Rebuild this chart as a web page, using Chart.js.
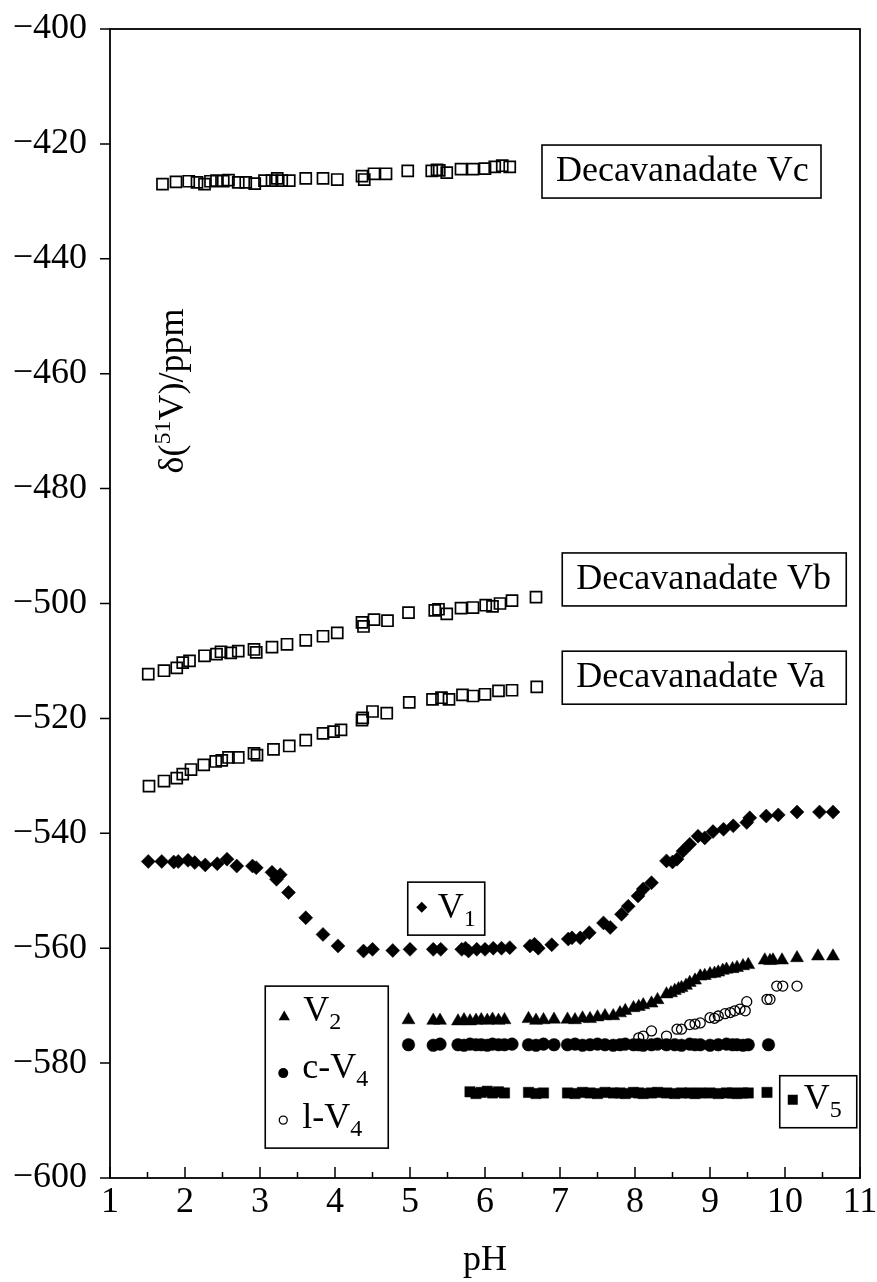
<!DOCTYPE html>
<html><head><meta charset="utf-8">
<script src="https://cdn.jsdelivr.net/npm/chart.js@4.4.1/dist/chart.umd.min.js"></script>
<style>html,body{margin:0;padding:0;background:#fff;}canvas{display:block;}</style>
</head><body>
<canvas id="c" width="877" height="1282"></canvas>
<script>
// ---- tick labels ----
const xTicks = [1,2,3,4,5,6,7,8,9,10,11];
const yTicks = [-600,-580,-560,-540,-520,-500,-480,-460,-440,-420,-400];

// ---- series (pH, δ/ppm) ----
const vcPH  = [1.70,1.88,2.05,2.16,2.26,2.34,2.42,2.51,2.58,2.71,2.81,2.93,3.06,3.16,3.23,3.29,3.39,3.61,3.84,4.03,4.36,4.39,4.52,4.68,4.97,5.29,5.36,5.39,5.49,5.68,5.84,6.00,6.13,6.23,6.33];
const vcPPM = [-427.0,-426.6,-426.5,-426.7,-427.0,-426.5,-426.4,-426.5,-426.3,-426.7,-426.7,-426.9,-426.4,-426.4,-426.0,-426.4,-426.4,-426.0,-426.0,-426.2,-425.6,-426.2,-425.2,-425.2,-424.7,-424.7,-424.5,-424.6,-425.0,-424.4,-424.4,-424.3,-424.0,-423.8,-424.0];

const vbPH  = [1.51,1.72,1.89,1.97,2.06,2.26,2.42,2.48,2.61,2.71,2.92,2.95,3.16,3.36,3.61,3.84,4.03,4.36,4.38,4.52,4.70,4.98,5.33,5.38,5.49,5.68,5.84,6.01,6.10,6.20,6.36,6.68];
const vbPPM = [-512.3,-511.7,-511.2,-510.3,-510.0,-509.1,-508.8,-508.4,-508.6,-508.3,-508.0,-508.5,-507.6,-507.1,-506.4,-505.7,-505.1,-503.3,-504.0,-502.8,-503.0,-501.6,-501.2,-501.0,-501.8,-500.8,-500.7,-500.3,-500.5,-500.0,-499.5,-498.9];

const vaPH  = [1.52,1.72,1.89,1.97,2.08,2.25,2.41,2.49,2.58,2.71,2.92,2.96,3.18,3.39,3.61,3.84,3.98,4.08,4.36,4.37,4.50,4.69,4.99,5.30,5.42,5.52,5.70,5.84,6.00,6.18,6.36,6.69];
const vaPPM = [-531.8,-530.9,-530.4,-529.7,-528.9,-528.1,-527.5,-527.3,-526.8,-526.8,-526.1,-526.4,-525.4,-524.8,-523.8,-522.6,-522.3,-522.0,-520.3,-519.9,-518.8,-519.1,-517.2,-516.7,-516.4,-516.7,-515.9,-516.1,-515.8,-515.2,-515.1,-514.5];

const v1PH  = [1.51,1.69,1.85,1.91,2.04,2.13,2.27,2.43,2.56,2.69,2.90,2.95,3.16,3.22,3.27,3.38,3.61,3.84,4.04,4.38,4.50,4.77,5.00,5.31,5.41,5.69,5.74,5.78,5.89,6.00,6.11,6.22,6.33,6.60,6.66,6.71,6.89,7.11,7.16,7.27,7.39,7.58,7.67,7.82,7.91,8.04,8.11,8.22,8.42,8.50,8.56,8.64,8.73,8.84,8.93,9.04,9.18,9.31,9.49,9.53,9.75,9.91,10.16,10.46,10.64];
const v1PPM = [-544.9,-544.9,-545.0,-544.9,-544.7,-545.1,-545.5,-545.3,-544.5,-545.7,-545.7,-546.0,-546.8,-548.0,-547.2,-550.3,-554.7,-557.6,-559.6,-560.5,-560.2,-560.4,-560.2,-560.2,-560.2,-560.2,-560.0,-560.5,-560.2,-560.2,-560.0,-560.0,-559.9,-559.6,-559.3,-560.0,-559.4,-558.4,-558.2,-558.2,-557.3,-555.6,-556.4,-554.1,-552.7,-550.9,-549.7,-548.6,-544.8,-545.0,-544.5,-543.1,-541.9,-540.5,-540.8,-539.7,-539.3,-538.7,-538.1,-537.3,-537.0,-536.8,-536.3,-536.3,-536.3];

const v2PH  = [4.98,5.31,5.40,5.64,5.72,5.80,5.88,5.95,6.03,6.10,6.18,6.26,6.58,6.68,6.78,6.92,7.10,7.20,7.30,7.40,7.50,7.60,7.71,7.80,7.87,7.98,8.05,8.11,8.22,8.30,8.42,8.48,8.53,8.58,8.62,8.68,8.73,8.80,8.87,8.93,9.00,9.06,9.11,9.17,9.22,9.30,9.36,9.44,9.51,9.73,9.80,9.84,9.96,10.16,10.44,10.64];
const v2PPM = [-572.5,-572.6,-572.6,-572.7,-572.5,-572.7,-572.6,-572.5,-572.6,-572.4,-572.6,-572.5,-572.3,-572.6,-572.5,-572.4,-572.4,-572.5,-572.2,-572.3,-572.0,-571.8,-571.8,-571.3,-570.9,-570.4,-570.2,-569.9,-569.6,-569.0,-568.0,-567.8,-567.4,-567.1,-566.9,-566.5,-566.0,-565.6,-564.9,-564.8,-564.5,-564.4,-564.2,-563.9,-563.7,-563.6,-563.4,-563.1,-562.9,-562.1,-562.2,-562.1,-562.1,-561.7,-561.4,-561.4];

const c4PH  = [4.98,5.31,5.40,5.64,5.72,5.80,5.88,5.95,6.03,6.10,6.18,6.26,6.36,6.58,6.68,6.78,6.92,7.10,7.20,7.30,7.40,7.50,7.60,7.71,7.80,7.87,7.98,8.05,8.11,8.22,8.30,8.42,8.53,8.62,8.73,8.80,8.87,9.00,9.11,9.22,9.30,9.36,9.44,9.51,9.78];
const c4PPM = [-576.8,-576.9,-576.7,-576.8,-576.9,-576.7,-576.8,-576.8,-576.9,-576.7,-576.8,-576.8,-576.7,-576.8,-576.9,-576.7,-576.8,-576.8,-576.7,-576.9,-576.8,-576.7,-576.8,-576.9,-576.8,-576.7,-576.8,-576.8,-576.9,-576.8,-576.7,-576.8,-576.8,-576.9,-576.7,-576.8,-576.8,-576.9,-576.8,-576.7,-576.8,-576.8,-576.9,-576.8,-576.8];

const l4PH  = [8.05,8.11,8.22,8.42,8.56,8.62,8.73,8.80,8.87,9.00,9.06,9.11,9.20,9.27,9.33,9.40,9.47,9.49,9.76,9.80,9.89,9.97,10.16];
const l4PPM = [-575.6,-575.3,-574.4,-575.3,-574.1,-574.1,-573.3,-573.2,-573.0,-572.1,-572.2,-571.8,-571.4,-571.2,-570.9,-570.6,-570.9,-569.3,-568.9,-568.9,-566.6,-566.6,-566.6];

const v5PH  = [5.80,5.88,5.95,6.03,6.10,6.18,6.26,6.58,6.68,6.78,7.10,7.20,7.30,7.40,7.50,7.60,7.71,7.80,7.87,7.98,8.05,8.11,8.22,8.30,8.42,8.53,8.62,8.73,8.80,8.87,9.00,9.11,9.22,9.30,9.36,9.44,9.51,9.76];
const v5PPM = [-585.0,-585.3,-585.1,-584.9,-585.2,-585.0,-585.2,-585.1,-585.3,-585.2,-585.2,-585.3,-585.1,-585.2,-585.3,-585.1,-585.2,-585.2,-585.3,-585.1,-585.2,-585.3,-585.2,-585.1,-585.2,-585.3,-585.2,-585.2,-585.3,-585.2,-585.2,-585.3,-585.2,-585.2,-585.3,-585.2,-585.2,-585.1];

// ---- text labels ----
const boxLabels = [
  {text:'Decavanadate Vc', pH:6.76, ppm:-420.2, w:279, h:53},
  {text:'Decavanadate Vb', pH:7.03, ppm:-491.2, w:284, h:53},
  {text:'Decavanadate Va', pH:7.03, ppm:-508.3, w:284, h:53}
];
const yTitleAnchor = {pH:1.97, ppm:-463.0};

const FONT = '"Liberation Serif","Times New Roman",serif';
const BLACK = '#000';
const pts = (xs, ys) => xs.map((x, i) => ({x: x, y: ys[i]}));

function drawMarker(ctx, style, x, y, r, filled, lw) {
  ctx.save();
  ctx.fillStyle = BLACK; ctx.strokeStyle = BLACK; ctx.lineWidth = lw || 1.2;
  ctx.beginPath();
  if (style === 'triangle') {
    ctx.moveTo(x, y - r); ctx.lineTo(x + 0.866 * r, y + 0.5 * r); ctx.lineTo(x - 0.866 * r, y + 0.5 * r); ctx.closePath();
  } else if (style === 'diamond') {
    ctx.moveTo(x, y - r); ctx.lineTo(x + r, y); ctx.lineTo(x, y + r); ctx.lineTo(x - r, y); ctx.closePath();
  } else if (style === 'square') {
    ctx.rect(x - r, y - r, 2 * r, 2 * r);
  } else {
    ctx.arc(x, y, r, 0, Math.PI * 2);
  }
  if (filled) ctx.fill(); else ctx.stroke();
  ctx.restore();
}

// draw text with sub/superscripts; parts: [text, kind]
function drawRich(ctx, x, y, parts) {
  let cx = x;
  for (const [t, kind] of parts) {
    if (kind === 'n') { ctx.font = '36px ' + FONT; ctx.fillText(t, cx, y); }
    else if (kind === 'sub') { ctx.font = '24px ' + FONT; ctx.fillText(t, cx, y + 8); }
    else { ctx.font = '24px ' + FONT; ctx.fillText(t, cx, y - 13); }
    cx += ctx.measureText(t).width;
  }
  return cx - x;
}
function richWidth(ctx, parts) {
  let w = 0;
  for (const [t, kind] of parts) { ctx.font = (kind === 'n' ? '36px ' : '24px ') + FONT; w += ctx.measureText(t).width; }
  return w;
}

const decorPlugin = {
  id: 'decor',
  afterDraw(chart) {
    const ctx = chart.ctx, xs = chart.scales.x, ys = chart.scales.y, a = chart.chartArea;
    ctx.save();
    ctx.strokeStyle = BLACK; ctx.fillStyle = BLACK;
    // frame
    ctx.lineWidth = 1.8;
    ctx.strokeRect(a.left, a.top, a.right - a.left, a.bottom - a.top);
    // x ticks (inward), major and minor
    ctx.lineWidth = 1.5;
    ctx.beginPath();
    xTicks.forEach((v, i) => {
      const px = xs.getPixelForValue(v);
      ctx.moveTo(px, a.bottom); ctx.lineTo(px, a.bottom - 11);
      if (i < xTicks.length - 1) {
        const pm = xs.getPixelForValue(v + 0.5);
        ctx.moveTo(pm, a.bottom); ctx.lineTo(pm, a.bottom - 6);
      }
    });
    // y ticks (outward)
    yTicks.forEach(v => {
      const py = ys.getPixelForValue(v);
      ctx.moveTo(a.left - 10, py); ctx.lineTo(a.left, py);
    });
    ctx.stroke();

    ctx.textBaseline = 'alphabetic'; ctx.textAlign = 'left';
    // boxed series labels
    ctx.lineWidth = 1.6;
    boxLabels.forEach(b => {
      const bx = xs.getPixelForValue(b.pH), by = ys.getPixelForValue(b.ppm);
      ctx.strokeRect(bx, by, b.w, b.h);
      ctx.font = '36px ' + FONT;
      ctx.fillText(b.text, bx + 14, by + b.h - 17);
    });

    // V1 box
    {
      const bx = xs.getPixelForValue(4.97), by = ys.getPixelForValue(-548.5);
      ctx.strokeRect(bx, by, 77, 53);
      drawMarker(ctx, 'diamond', bx + 14, by + 25, 5.5, true);
      drawRich(ctx, bx + 30, by + 36, [['V','n'],['1','sub']]);
    }
    // V5 box
    {
      const bx = xs.getPixelForValue(9.93), by = ys.getPixelForValue(-582.2);
      ctx.strokeRect(bx, by, 77, 52);
      drawMarker(ctx, 'square', bx + 13, by + 24, 5, true);
      drawRich(ctx, bx + 24, by + 33, [['V','n'],['5','sub']]);
    }
    // legend box V2 / c-V4 / l-V4
    {
      const bx = xs.getPixelForValue(3.07), by = ys.getPixelForValue(-566.6);
      ctx.strokeRect(bx, by, 123, 162);
      drawMarker(ctx, 'triangle', bx + 19, by + 31, 6.5, true);
      drawRich(ctx, bx + 38, by + 35, [['V','n'],['2','sub']]);
      drawMarker(ctx, 'circle', bx + 18, by + 87, 5, true);
      drawRich(ctx, bx + 37, by + 92, [['c-V','n'],['4','sub']]);
      drawMarker(ctx, 'circle', bx + 18, by + 134, 4, false, 1.3);
      drawRich(ctx, bx + 37, by + 142, [['l-V','n'],['4','sub']]);
    }
    // y-axis title (rotated, inside plot)
    {
      const parts = [['δ(','n'],['51','sup'],['V)/ppm','n']];
      const tx = xs.getPixelForValue(yTitleAnchor.pH), ty = ys.getPixelForValue(yTitleAnchor.ppm);
      ctx.translate(tx, ty);
      ctx.rotate(-Math.PI / 2);
      const w = richWidth(ctx, parts);
      drawRich(ctx, -w / 2, 0, parts);
    }
    ctx.restore();
  }
};

const ds = (label, xs, ys, style, r, filled, bw) => ({
  label, data: pts(xs, ys), showLine: false,
  pointStyle: style, pointRadius: r, pointHoverRadius: r,
  pointBorderWidth: bw, borderColor: BLACK,
  backgroundColor: filled ? BLACK : 'rgba(0,0,0,0)'
});

Chart.defaults.font.family = FONT;
Chart.defaults.color = BLACK;

new Chart(document.getElementById('c'), {
  type: 'scatter',
  data: {
    datasets: [
      ds('Decavanadate Vc', vcPH, vcPPM, 'rect', 7.8, false, 1.7),
      ds('Decavanadate Vb', vbPH, vbPPM, 'rect', 7.8, false, 1.7),
      ds('Decavanadate Va', vaPH, vaPPM, 'rect', 7.8, false, 1.7),
      ds('V1', v1PH, v1PPM, 'rectRot', 7, true, 0.5),
      ds('V2', v2PH, v2PPM, 'triangle', 7.5, true, 0.5),
      ds('c-V4', c4PH, c4PPM, 'circle', 6.3, true, 0.5),
      ds('l-V4', l4PH, l4PPM, 'circle', 5, false, 1.3),
      ds('V5', v5PH, v5PPM, 'rect', 7.3, true, 0.5)
    ]
  },
  options: {
    responsive: false, animation: false, devicePixelRatio: 1, events: [],
    layout: {padding: {left: 0, top: 29, right: 17, bottom: 0}},
    plugins: {legend: {display: false}, tooltip: {enabled: false}},
    scales: {
      x: {
        type: 'linear', min: 1, max: 11, position: 'bottom',
        grid: {display: false, drawTicks: false}, border: {display: false},
        afterBuildTicks: s => { s.ticks = xTicks.map(v => ({value: v})); },
        afterFit: s => { s.height = 104; s.paddingLeft = 0; s.paddingRight = 0; },
        ticks: {padding: 3, maxRotation: 0, autoSkip: false, color: BLACK, font: {family: FONT, size: 36}, callback: v => String(v)},
        title: {display: true, text: 'pH', color: BLACK, font: {family: FONT, size: 36}, padding: {top: 0, bottom: 0}}
      },
      y: {
        type: 'linear', min: -600, max: -400,
        grid: {display: false, drawTicks: false}, border: {display: false},
        afterBuildTicks: s => { s.ticks = yTicks.map(v => ({value: v})); },
        afterFit: s => { s.width = 110; s.paddingTop = 0; s.paddingBottom = 0; },
        ticks: {padding: 23, autoSkip: false, color: BLACK, font: {family: FONT, size: 36}, callback: v => (v < 0 ? '\u2212' : '') + Math.abs(v)}
      }
    }
  },
  plugins: [decorPlugin]
});
</script>
</body></html>
